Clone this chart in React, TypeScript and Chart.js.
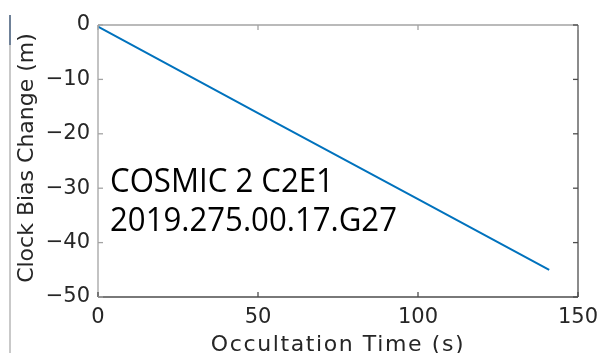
import React, { useEffect, useRef } from "react";
import { Chart, registerables } from "chart.js";

Chart.register(...registerables);

// Clock bias change over one occultation
const occultationTime = [0, 50, 100, 141];
const clockBiasChange = [-0.3, -16.2, -32.0, -45.0];

const xTicks = [0, 50, 100, 150];
const yTicks = [0, -10, -20, -30, -40, -50];

const xTitle = "Occultation Time (s)";
const yTitle = "Clock Bias Change (m)";
const noteLines = ["COSMIC 2 C2E1", "2019.275.00.17.G27"];

const W = 607;
const H = 353;

const axisText = "#262626";
const lightEdge = "#a3a3a3";
const darkEdge = "#4d4d4d";

// Box, inward tick marks, axis titles and the occultation label
const framePlugin = {
  id: "frame",
  afterDraw(chart: any) {
    const { ctx, chartArea: a, scales } = chart;
    const xs = scales.x;
    const ys = scales.y;
    const tickLen = 5;
    ctx.save();
    ctx.lineWidth = 1.3;

    const seg = (x1: number, y1: number, x2: number, y2: number, c: string) => {
      ctx.strokeStyle = c;
      ctx.beginPath();
      ctx.moveTo(x1, y1);
      ctx.lineTo(x2, y2);
      ctx.stroke();
    };

    seg(a.left, a.top, a.right, a.top, lightEdge);
    seg(a.left, a.top, a.left, a.bottom, lightEdge);
    seg(a.left, a.bottom, a.right, a.bottom, darkEdge);
    seg(a.right, a.top, a.right, a.bottom, darkEdge);

    for (const v of xTicks) {
      const px = xs.getPixelForValue(v);
      seg(px, a.bottom, px, a.bottom - tickLen, darkEdge);
      seg(px, a.top, px, a.top + tickLen, lightEdge);
    }
    for (const v of yTicks) {
      const py = ys.getPixelForValue(v);
      seg(a.left, py, a.left + tickLen, py, lightEdge);
      seg(a.right, py, a.right - tickLen, py, darkEdge);
    }

    // axis titles
    ctx.fillStyle = axisText;
    ctx.font = "22px 'DejaVu Sans'";
    ctx.textBaseline = "alphabetic";
    ctx.textAlign = "center";
    (ctx as any).letterSpacing = "1.6px";
    ctx.fillText(xTitle, (a.left + a.right) / 2, 350.5);
    (ctx as any).letterSpacing = "0px";

    ctx.save();
    ctx.translate(32.5, (a.top + a.bottom) / 2 - 3);
    ctx.rotate(-Math.PI / 2);
    ctx.fillText(yTitle, 0, 0);
    ctx.restore();

    // occultation label
    ctx.fillStyle = "#000000";
    ctx.textAlign = "left";
    ctx.font = "33px 'Open Sans'";
    const wide = ctx.measureText(noteLines[1]).width;
    const sx = 287 / wide;
    const left = a.left + 12;
    noteLines.forEach((line, i) => {
      ctx.save();
      ctx.translate(left, 192 + i * 39);
      ctx.scale(sx, 1);
      ctx.fillText(line, 0, 0);
      ctx.restore();
    });

    ctx.restore();
  },
};

export default function App() {
  const canvasRef = useRef<HTMLCanvasElement | null>(null);

  useEffect(() => {
    const canvas = canvasRef.current;
    if (!canvas) return;
    const chart = new Chart(canvas, {
      type: "line",
      data: {
        labels: occultationTime,
        datasets: [
          {
            data: occultationTime.map((t, i) => ({ x: t, y: clockBiasChange[i] })),
            borderColor: "#0072BD",
            borderWidth: 2,
            pointRadius: 0,
            tension: 0,
            fill: false,
          },
        ],
      },
      options: {
        animation: false,
        responsive: false,
        devicePixelRatio: 1,
        layout: { padding: { left: 0, top: 25, right: 29, bottom: 0 } },
        plugins: {
          legend: { display: false },
          tooltip: { enabled: false },
        },
        scales: {
          x: {
            type: "linear",
            min: 0,
            max: 150,
            afterFit: (s: any) => {
              s.height = 56;
            },
            afterBuildTicks: (s: any) => {
              s.ticks = xTicks.map((v) => ({ value: v }));
            },
            grid: { display: false, drawTicks: false },
            border: { display: false },
            ticks: {
              color: axisText,
              font: { family: "'DejaVu Sans'", size: 21 },
              padding: 8,
              maxRotation: 0,
              autoSkip: false,
            },
          },
          y: {
            type: "linear",
            min: -50,
            max: 0,
            afterFit: (s: any) => {
              s.width = 98;
            },
            afterBuildTicks: (s: any) => {
              s.ticks = yTicks.map((v) => ({ value: v }));
            },
            grid: { display: false, drawTicks: false },
            border: { display: false },
            ticks: {
              color: axisText,
              font: { family: "'DejaVu Sans'", size: 21 },
              padding: 8,
              autoSkip: false,
              callback: (v: any) => (Number(v) < 0 ? "\u2212" + Math.abs(Number(v)) : String(v)),
            },
          },
        },
      },
      plugins: [framePlugin],
    });
    return () => chart.destroy();
  }, []);

  return (
    <div style={{ position: "absolute", left: 0, top: 0, width: W, height: H, background: "#ffffff" }}>
      <div style={{ position: "absolute", left: 9, top: 15, width: 1.5, height: H - 15, background: "#c9c9c9" }} />
      <div style={{ position: "absolute", left: 9, top: 15, width: 1.5, height: 30, background: "#6f8198" }} />
      <canvas ref={canvasRef} width={W} height={H} style={{ position: "absolute", left: 0, top: 0, width: W, height: H }} />
    </div>
  );
}
